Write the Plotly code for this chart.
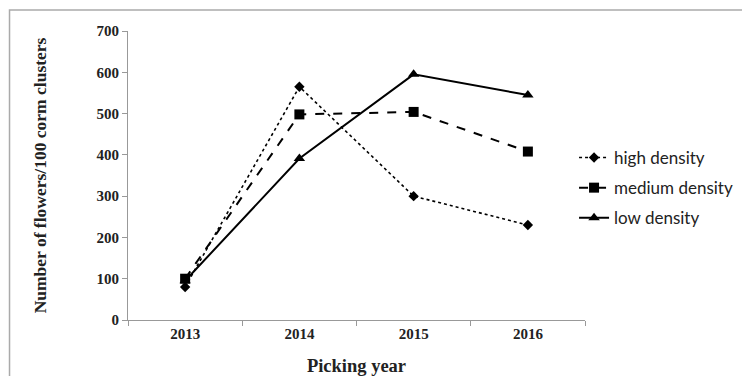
import plotly.graph_objects as go

years = ["2013", "2014", "2015", "2016"]
high_density = [80, 565, 300, 230]
medium_density = [100, 498, 504, 408]
low_density = [95, 391, 595, 545]
y_ticks = [0, 100, 200, 300, 400, 500, 600, 700]

fig = go.Figure()
fig.add_trace(go.Scatter(x=years, y=high_density, name="high density", mode="lines+markers",
                         line=dict(color="black", width=1.6, dash="dot"),
                         marker=dict(symbol="diamond", size=8, color="black"), legendgroup="a"))
fig.add_trace(go.Scatter(x=years, y=medium_density, name="medium density", mode="lines+markers",
                         line=dict(color="black", width=2, dash="dash"),
                         marker=dict(symbol="square", size=10, color="black"), legendgroup="b"))
fig.add_trace(go.Scatter(x=years, y=low_density, name="low density", mode="lines+markers",
                         line=dict(color="black", width=2),
                         marker=dict(symbol="triangle-up", size=10, color="black"), legendgroup="c"))

OFF = 8  # page body margin
L, R, T, B = 128 - OFF, 587 - OFF, 31 - OFF, 320 - OFF
W, H = 750 - OFF, 376 - OFF
pw, ph = R - L, B - T

fig.update_layout(
    width=W, height=H,
    margin=dict(l=L, r=W - R, t=T, b=H - B),
    paper_bgcolor="white", plot_bgcolor="white",
    showlegend=True,
    legend=dict(x=(576 - OFF - L) / pw, y=(B - (140 - OFF)) / ph, xanchor="left", yanchor="top",
                font=dict(family="Lato", size=17, color="#222"),
                tracegroupgap=5, itemwidth=30, bgcolor="rgba(0,0,0,0)"),
    xaxis=dict(type="category", range=[-0.5, 3.5], tickson="boundaries", ticks="outside",
               ticklen=5, tickcolor="#999", showline=True, linecolor="#999", linewidth=1,
               showgrid=False, zeroline=False, automargin=False,
               tickvals=years, ticktext=[f"<b>{y}</b>" for y in years],
               tickfont=dict(family="Liberation Serif", size=15, color="#222"),
               title=dict(text="<b>Picking year</b>", standoff=18,
                          font=dict(family="Liberation Serif", size=18.5, color="#222"))),
    yaxis=dict(range=[0, 700], tickvals=y_ticks, ticktext=[f"<b>{v}</b>" for v in y_ticks],
               ticks="outside", ticklen=5, tickcolor="#999", showline=True, linecolor="#999",
               linewidth=1, showgrid=False, zeroline=False, automargin=False,
               tickfont=dict(family="Liberation Serif", size=15, color="#222"),
               title=dict(text="<b>Number of flowers/100 corm clusters</b>", standoff=45,
                          font=dict(family="Liberation Serif", size=17.5, color="#222"))),
    shapes=[dict(type="rect", xref="paper", yref="paper",
                 x0=(9 - OFF - L) / pw, x1=(W + 20 - L) / pw,
                 y0=(B - (H + 20)) / ph, y1=(B - (10 - OFF)) / ph,
                 line=dict(color="#aaa", width=1.5), fillcolor="rgba(0,0,0,0)", layer="above")],
)

fig.write_html("out.html")
